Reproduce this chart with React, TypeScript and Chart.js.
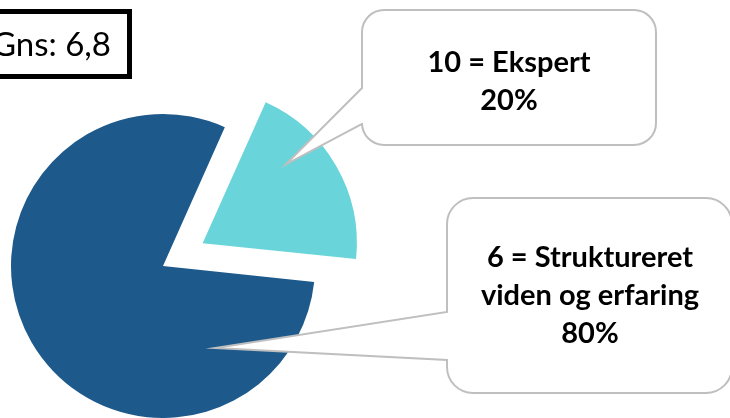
import React, { useEffect, useRef } from "react";
import { Chart, registerables } from "chart.js";

Chart.register(...registerables);

// ---- data ----
const categories = ["10 = Ekspert", "6 = Struktureret viden og erfaring"];
const values = [20, 80];
const labelLines = [["10 = Ekspert"], ["6 = Struktureret", "viden og erfaring"]];
const percentLabels = ["20%", "80%"];
const averageLabel = "Gns: 6,8";

// ---- style ----
const sliceColors = ["#69d5db", "#1d5a8b"];
const explodeOffsets = [183, 0];
const RADIUS = 152;

const callouts = [
  { x: 362, y: 10, w: 294, h: 135, r: 22, baseTop: 88, baseBottom: 124, frac: 0.31, rfrac: 0.74, textX: 509, firstBaseline: 72 },
  { x: 447, y: 198, w: 285, h: 195, r: 26, baseTop: 312, baseBottom: 360, frac: 0.179, rfrac: 0.64, textX: 590, firstBaseline: 267 },
];

function arcShift(el: any, offset: number) {
  const circ = el.endAngle - el.startAngle;
  const fix = 1 - Math.sin(Math.min(Math.PI, circ || 0));
  const o = offset / 4;
  return o + o * fix;
}

const overlay = {
  id: "overlay",
  afterDraw(chart: any) {
    const ctx = chart.ctx as CanvasRenderingContext2D;
    const meta = chart.getDatasetMeta(0);
    ctx.save();
    meta.data.forEach((el: any, i: number) => {
      const c = callouts[i];
      const mid = (el.startAngle + el.endAngle) / 2;
      const t = explodeOffsets[i] ? arcShift(el, explodeOffsets[i]) : 0;
      const cx = el.x + Math.cos(mid) * t;
      const cy = el.y + Math.sin(mid) * t;
      const a = el.startAngle + c.frac * (el.endAngle - el.startAngle);
      const tipX = cx + Math.cos(a) * el.outerRadius * c.rfrac;
      const tipY = cy + Math.sin(a) * el.outerRadius * c.rfrac;
      const { x, y, w, h, r } = c;
      ctx.beginPath();
      ctx.moveTo(x + r, y);
      ctx.lineTo(x + w - r, y);
      ctx.arcTo(x + w, y, x + w, y + r, r);
      ctx.lineTo(x + w, y + h - r);
      ctx.arcTo(x + w, y + h, x + w - r, y + h, r);
      ctx.lineTo(x + r, y + h);
      ctx.arcTo(x, y + h, x, y + h - r, r);
      ctx.lineTo(x, c.baseBottom);
      ctx.lineTo(tipX, tipY);
      ctx.lineTo(x, c.baseTop);
      ctx.lineTo(x, y + r);
      ctx.arcTo(x, y, x + r, y, r);
      ctx.closePath();
      ctx.fillStyle = "#ffffff";
      ctx.fill();
      ctx.lineWidth = 2;
      ctx.strokeStyle = "#bfbfbf";
      ctx.lineJoin = "miter";
      ctx.stroke();

      ctx.fillStyle = "#000000";
      ctx.font = "bold 29px Lato";
      ctx.textAlign = "center";
      ctx.textBaseline = "alphabetic";
      const lines = [...labelLines[i], percentLabels[i]];
      lines.forEach((ln, k) => {
        ctx.fillText(ln, c.textX, c.firstBaseline + k * 38);
      });
    });

    // average box
    ctx.fillStyle = "#ffffff";
    ctx.fillRect(-10, 11.5, 139.5, 65);
    ctx.lineWidth = 5;
    ctx.strokeStyle = "#000000";
    ctx.strokeRect(-10, 11.5, 139.5, 65);
    ctx.fillStyle = "#000000";
    ctx.font = "33px Lato";
    ctx.textAlign = "right";
    ctx.fillText(averageLabel, 111, 56);
    ctx.restore();
  },
};

export default function App() {
  const ref = useRef<HTMLCanvasElement>(null);
  useEffect(() => {
    document.body.style.margin = "0";
    const canvas = ref.current!;
    const chart = new Chart(canvas, {
      type: "pie",
      data: {
        labels: categories,
        datasets: [
          {
            data: values,
            backgroundColor: sliceColors,
            borderWidth: 0,
            offset: explodeOffsets,
            hoverOffset: 0,
          } as any,
        ],
      },
      options: {
        responsive: false,
        animation: false,
        rotation: 24,
        radius: RADIUS,
        layout: { padding: { left: 0, right: 404, top: 114, bottom: 0 } },
        plugins: { legend: { display: false }, tooltip: { enabled: false } },
        events: [],
      } as any,
      plugins: [overlay],
    });
    return () => chart.destroy();
  }, []);
  return (
    <div style={{ width: 730, height: 418 }}>
      <canvas ref={ref} width={730} height={418} style={{ display: "block" }} />
    </div>
  );
}
